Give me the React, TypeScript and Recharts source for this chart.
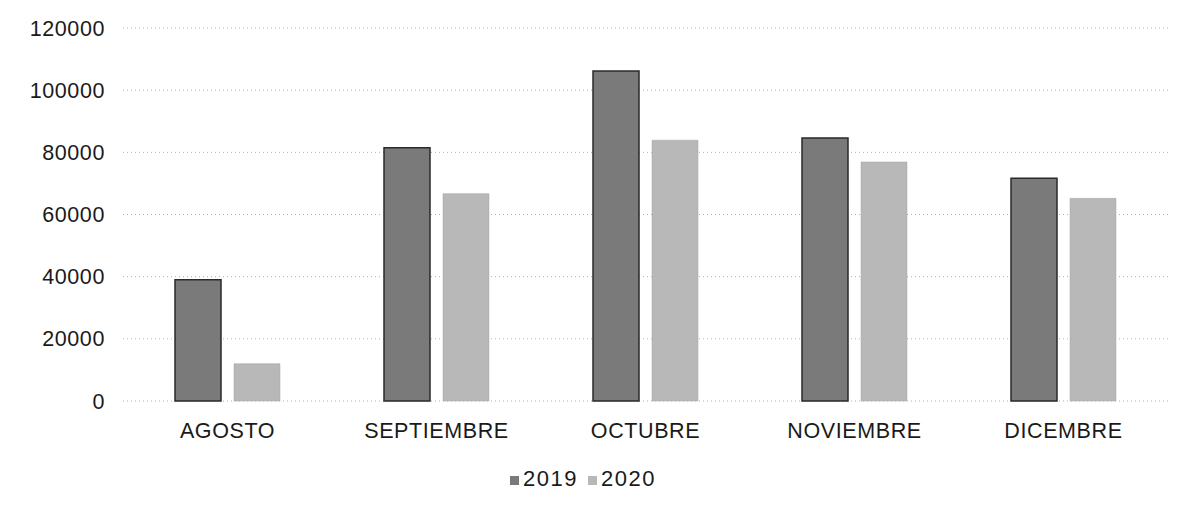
import { BarChart, Bar, XAxis, YAxis, CartesianGrid, Legend } from "recharts";

const months = ["AGOSTO", "SEPTIEMBRE", "OCTUBRE", "NOVIEMBRE", "DICEMBRE"];
const ventas2019 = [39000, 81500, 106200, 84600, 71700];
const ventas2020 = [12000, 66700, 83900, 76900, 65200];
const yTicks = [0, 20000, 40000, 60000, 80000, 100000, 120000];

const data = months.map((month, i) => ({
  month,
  "2019": ventas2019[i],
  "2020": ventas2020[i],
}));

const font = "'Liberation Sans', Arial, sans-serif";
const tickStyle = { fill: "#1a1a1a", fontSize: 21.5, fontFamily: font, letterSpacing: 0.6 };

const App = () => {
  return (
    <div style={{ fontFamily: font }}>
      <BarChart
        width={1190}
        height={503}
        data={data}
        margin={{ top: 20, right: 30, bottom: 19, left: 0 }}
        barCategoryGap={52}
        barGap={13}
      >
        <CartesianGrid
          vertical={false}
          stroke="#b0b0b0"
          strokeDasharray="1 3"
        />
        <XAxis
          dataKey="month"
          axisLine={false}
          tickLine={false}
          tickSize={0}
          tickMargin={22}
          height={65}
          tick={tickStyle}
        />
        <YAxis
          domain={[0, 120000]}
          ticks={yTicks}
          axisLine={false}
          tickLine={false}
          tickSize={0}
          tickMargin={18}
          width={115}
          tick={tickStyle}
        />
        <Legend
          verticalAlign="bottom"
          iconType="square"
          iconSize={9}
          wrapperStyle={{ fontSize: 22, color: "#1a1a1a", fontFamily: font, letterSpacing: 1.5 }}
          formatter={(value) => <span style={{ color: "#1a1a1a" }}>{value}</span>}
        />
        <Bar
          dataKey="2019"
          fill="#7a7a7a"
          stroke="#2a2a2a"
          strokeWidth={1.5}
          isAnimationActive={false}
        />
        <Bar
          dataKey="2020"
          fill="#b8b8b8"
          stroke="#a5a5a5"
          strokeWidth={0.5}
          isAnimationActive={false}
        />
      </BarChart>
    </div>
  );
};

export default App;
